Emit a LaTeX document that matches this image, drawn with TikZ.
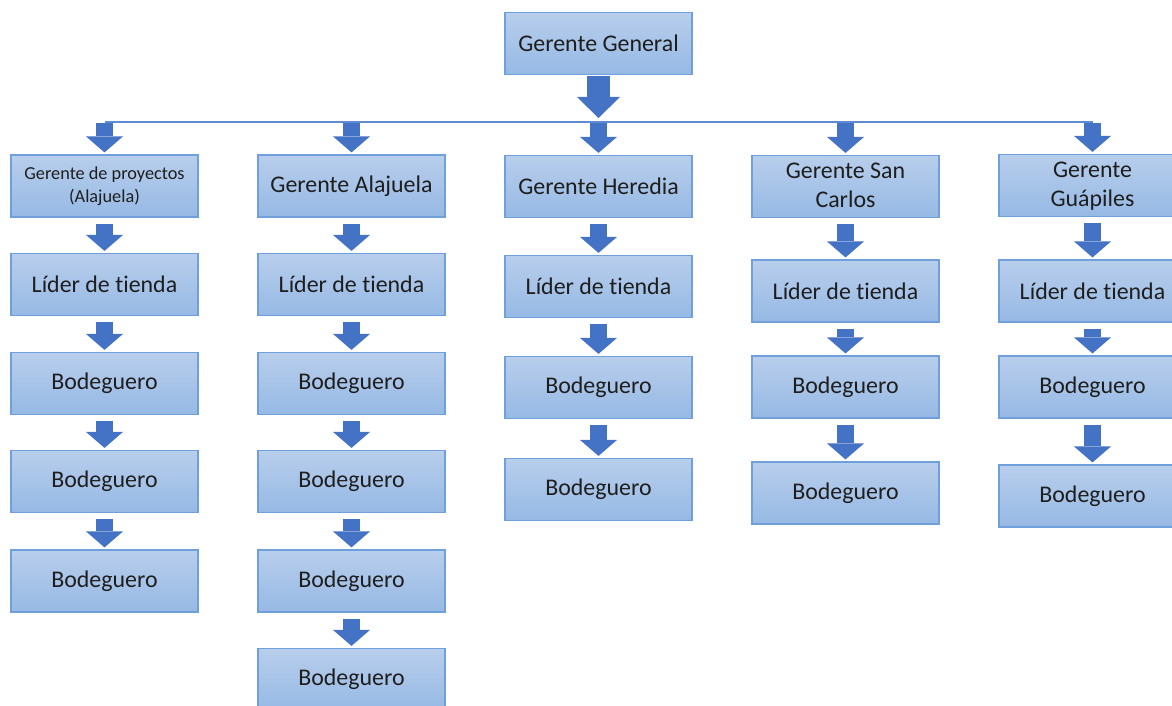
\documentclass[tikz,border=0pt]{standalone}
\usepackage{fontspec}
\setmainfont{Carlito}[Ligatures={NoCommon,NoRare}]
\usetikzlibrary{arrows.meta}

\definecolor{boxtop}{RGB}{184,206,236}
\definecolor{boxbot}{RGB}{150,185,228}
\definecolor{boxline}{RGB}{112,160,220}
\definecolor{arrowblue}{RGB}{68,114,196}
\definecolor{busblue}{RGB}{96,138,210}
\definecolor{textgray}{RGB}{30,30,30}

\tikzset{
  orgbox/.style={draw=boxline, line width=0.8pt, top color=boxtop, bottom color=boxbot,
    minimum width=4.675cm, minimum height=1.55cm, inner sep=2pt, align=center,
    text=textgray, font=\fontsize{17}{20.4}\selectfont},
  twoline/.style={text height=33pt, text depth=3.5pt},
  smalltext/.style={font=\fontsize{13}{16.3}\selectfont},
  downarrow/.style={draw=arrowblue, line width=0.425cm,
    -{Triangle[width=0.925cm, length=0.4cm, line width=0pt]},
    shorten <=0.15cm, shorten >=0.05cm},
  busarrow/.style={downarrow, shorten <=0.02cm},
  bigarrow/.style={draw=arrowblue, line width=0.575cm,
    -{Triangle[width=1.075cm, length=0.525cm, line width=0pt]},
    shorten <=0.03cm, shorten >=0.1cm},
  busline/.style={draw=busblue, line width=1pt}
}

\begin{document}
\begin{tikzpicture}[x=0.025cm, y=-0.025cm]
\useasboundingbox (0,0) rectangle (1172,705);
\clip (0,0) rectangle (1172,705);

% Top manager and the bus line
\node[orgbox] (gg) at (598.5, 43.5) {Gerente General};
\coordinate (busgg) at (598.5, 122);
\coordinate (bus1) at (104.5, 122);
\coordinate (bus2) at (351.5, 122);
\coordinate (bus3) at (598.5, 122);
\coordinate (bus4) at (845.5, 122);
\coordinate (bus5) at (1092.5, 122);
\draw[busline] (bus1) -- (bus5);
\draw[bigarrow] (gg.south) -- (busgg);

% Column 1
\node[orgbox, smalltext] (g1) at (104.5, 186) {Gerente de proyectos\\(Alajuela)};
\node[orgbox] (l1) at (104.5, 284.5) {Líder de tienda};
\node[orgbox] (b11) at (104.5, 383.5) {Bodeguero};
\node[orgbox] (b12) at (104.5, 481.5) {Bodeguero};
\node[orgbox] (b13) at (104.5, 581) {Bodeguero};
\draw[busarrow] (bus1) -- (g1.north);
\draw[downarrow] (g1.south) -- (l1.north);
\draw[downarrow] (l1.south) -- (b11.north);
\draw[downarrow] (b11.south) -- (b12.north);
\draw[downarrow] (b12.south) -- (b13.north);

% Column 2
\node[orgbox] (g2) at (351.5, 186) {Gerente Alajuela};
\node[orgbox] (l2) at (351.5, 284.5) {Líder de tienda};
\node[orgbox] (b21) at (351.5, 383.5) {Bodeguero};
\node[orgbox] (b22) at (351.5, 481.5) {Bodeguero};
\node[orgbox] (b23) at (351.5, 581) {Bodeguero};
\node[orgbox] (b24) at (351.5, 679.5) {Bodeguero};
\draw[busarrow] (bus2) -- (g2.north);
\draw[downarrow] (g2.south) -- (l2.north);
\draw[downarrow] (l2.south) -- (b21.north);
\draw[downarrow] (b21.south) -- (b22.north);
\draw[downarrow] (b22.south) -- (b23.north);
\draw[downarrow] (b23.south) -- (b24.north);

% Column 3
\node[orgbox] (g3) at (598.5, 186.5) {Gerente Heredia};
\node[orgbox] (l3) at (598.5, 286.5) {Líder de tienda};
\node[orgbox] (b31) at (598.5, 387.5) {Bodeguero};
\node[orgbox] (b32) at (598.5, 489.5) {Bodeguero};
\draw[busarrow] (bus3) -- (g3.north);
\draw[downarrow] (g3.south) -- (l3.north);
\draw[downarrow] (l3.south) -- (b31.north);
\draw[downarrow] (b31.south) -- (b32.north);

% Column 4
\node[orgbox, twoline] (g4) at (845.5, 186.5) {Gerente San\\Carlos};
\node[orgbox] (l4) at (845.5, 291) {Líder de tienda};
\node[orgbox] (b41) at (845.5, 387) {Bodeguero};
\node[orgbox] (b42) at (845.5, 493) {Bodeguero};
\draw[busarrow] (bus4) -- (g4.north);
\draw[downarrow] (g4.south) -- (l4.north);
\draw[downarrow] (l4.south) -- (b41.north);
\draw[downarrow] (b41.south) -- (b42.north);

% Column 5
\node[orgbox, twoline] (g5) at (1092.5, 185.5) {Gerente\\Guápiles};
\node[orgbox] (l5) at (1092.5, 291) {Líder de tienda};
\node[orgbox] (b51) at (1092.5, 387) {Bodeguero};
\node[orgbox] (b52) at (1092.5, 496) {Bodeguero};
\draw[busarrow] (bus5) -- (g5.north);
\draw[downarrow] (g5.south) -- (l5.north);
\draw[downarrow] (l5.south) -- (b51.north);
\draw[downarrow] (b51.south) -- (b52.north);
\end{tikzpicture}
\end{document}
